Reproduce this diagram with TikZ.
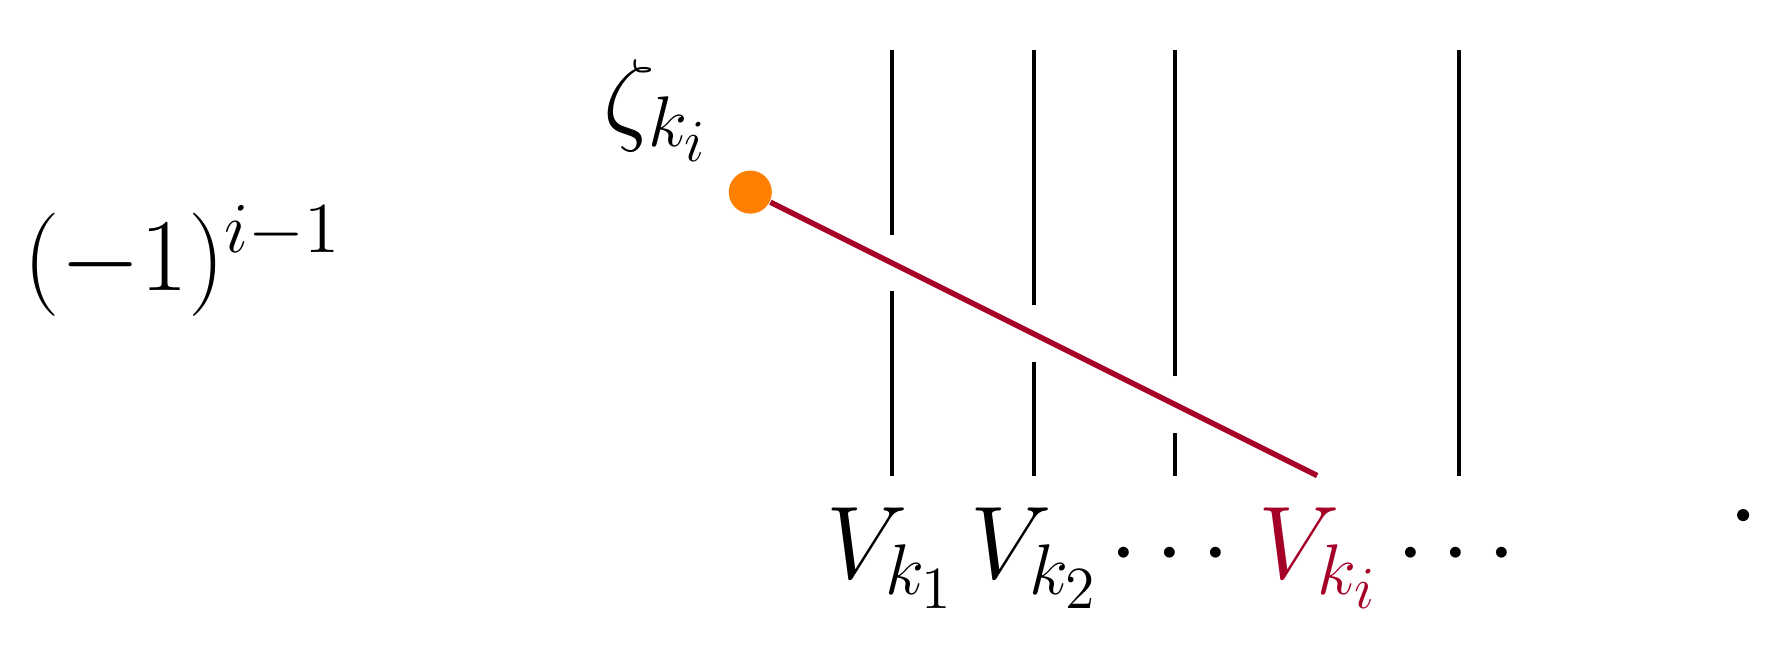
\documentclass[tikz,border=0pt]{standalone}
\usepackage{xcolor}
\definecolor{mred}{RGB}{165,0,40}
\begin{document}
\begin{tikzpicture}[
  strand/.style={line width=0.8pt, black},
  redstrand/.style={line width=1.1pt, mred},
  lbl/.style={anchor=base west, inner sep=0pt, font=\huge}
]
\useasboundingbox (-6.295,-1.189) rectangle (6.203,3.356);
% vertical strands with gaps
\coordinate (a0) at (0,0);   \coordinate (a1) at (0,1.3);
\coordinate (a2) at (0,1.7); \coordinate (a3) at (0,3);
\coordinate (b0) at (1,0);   \coordinate (b1) at (1,0.8);
\coordinate (b2) at (1,1.2); \coordinate (b3) at (1,3);
\coordinate (c0) at (2,0);   \coordinate (c1) at (2,0.3);
\coordinate (c2) at (2,0.7); \coordinate (c3) at (2,3);
\coordinate (d0) at (4,0);   \coordinate (d3) at (4,3);
\draw[strand] (a0) -- (a1) (a2) -- (a3);
\draw[strand] (b0) -- (b1) (b2) -- (b3);
\draw[strand] (c0) -- (c1) (c2) -- (c3);
\draw[strand] (d0) -- (d3);
% red strand from dot
\node[circle, fill=orange, inner sep=0pt, minimum size=0.304cm] (dot) at (-1,2) {};
\coordinate (rend) at (3,0);
\draw[redstrand] (dot) -- (rend);
% labels
\node[lbl] (sign) at (-6.133,1.309) {$(-1)^{i-1}$};
\node[lbl] (zeta) at (-2.04,2.431) {$\zeta_{k_i}$};
\node[lbl] (v1) at (-0.47,-0.730) {$V_{k_1}$};
\node[lbl] (v2) at (0.546,-0.730) {$V_{k_2}$};
\node[lbl] (cd1) at (1.53,-0.730) {$\cdots$};
\node[lbl, text=mred] (vi) at (2.58,-0.730) {$V_{k_i}$};
\node[lbl] (cd2) at (3.55,-0.730) {$\cdots$};
\node[circle, fill=black, inner sep=0pt, minimum size=0.085cm] (fdot) at (6.006,-0.279) {};
\end{tikzpicture}
\end{document}
